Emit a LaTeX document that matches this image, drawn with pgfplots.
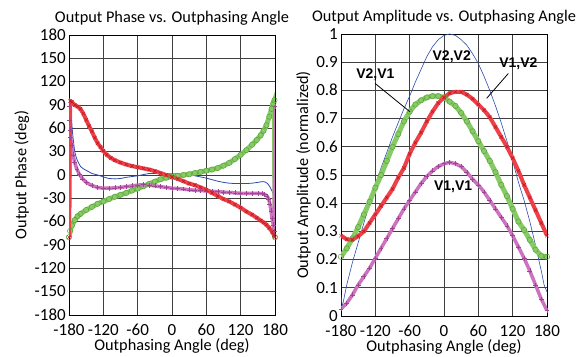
\documentclass[border=0pt]{standalone}
\usepackage{fontspec}
\setmainfont{Carlito}
\newfontfamily\arialb{Liberation Sans}
\usepackage{pgfplots}
\usepackage{pgfplotstable}
\pgfplotsset{compat=1.18}
\definecolor{cblue}{RGB}{45,75,175}
\definecolor{cred}{RGB}{235,30,40}
\definecolor{cgreen}{RGB}{105,190,65}
\definecolor{cmag}{RGB}{190,80,175}
\pgfplotsset{
 myax/.style={
  scale only axis, anchor=south west, width=206bp,
  xmin=-180, xmax=180, xtick={-180,-120,...,180},
  grid=major, major grid style={black!75, line width=0.75bp},
  axis line style={black, line width=0.8bp},
  major tick length=0pt,
  /pgf/number format/assume math mode=true,
  tick label style={font=\fontsize{17bp}{19bp}\selectfont, inner sep=0pt, text height=10.5bp, text depth=0pt},
  xticklabel style={yshift=-9.5bp},
  yticklabel style={xshift=-3bp},
  label style={font=\fontsize{16.3bp}{19bp}\selectfont},
  title style={font=\fontsize{16.3bp}{19bp}\selectfont},
  xlabel={Outphasing Angle (deg)},
  xlabel style={yshift=0.5bp},
  ylabel style={yshift=2bp},
  clip=true,
 },
 bred/.style={cred!85!white, line width=4bp, mark=x, mark size=2.4bp, mark options={cred!80!black, line width=0.5bp}},
 bgreen/.style={cgreen!80!white, line width=5bp, mark=o, mark size=2.7bp, mark options={cgreen!85!black, line width=0.5bp}},
 bmag/.style={cmag!80!white, line width=3.5bp, mark=+, mark size=2.4bp, mark options={cmag!85!black, line width=0.5bp}},
 bblue/.style={cblue, line width=0.8bp, no marks},
}
\begin{document}
% ---------- phase data ----------
\pgfplotstableread{
a v
-180 -80
-178 95
-175 94
-170 90
-165 88
-160 85
-155 79
-150 71
-145 63
-140 56
-135 48
-130 41
-125 36
-120 31
-114 26
-107 22
-100 19
-90 16
-80 13.5
-70 11.5
-60 10
-50 8.5
-40 7
-30 5
-20 2.5
-10 0
0 -2.5
10 -5
20 -8
30 -11
40 -13
50 -16
60 -19
70 -23
80 -27
90 -31
100 -34
110 -38
120 -42
130 -47
140 -51
148 -55
155 -58.5
160 -61
165 -64
170 -68
175 -73
178 -77
180 -80
}\phred
\pgfplotstableread{
a v
-180 -80
-178 -72
-175 -65
-170 -58
-165 -53
-160 -50
-150 -45
-140 -41
-130 -37
-120 -34
-110 -31
-100 -28
-90 -25.5
-80 -23
-70 -20
-60 -17.5
-50 -14.5
-40 -11.5
-30 -8.5
-20 -5.5
-10 -3.5
0 -2
10 -1
20 0
30 1
40 2.5
50 4
60 5.5
70 7
80 9
90 12
100 15.5
110 20.5
120 26
130 32
140 39
148 45
155 51
160 57
165 64
170 75
174 85
177 92
179 96
180 -80
}\phgreen
\pgfplotstableread{
a v
-180 88
-179 70
-178 58
-177 48
-175 38
-173 26
-170 16
-166 7
-162 1
-156 -5
-150 -9.5
-140 -13.5
-130 -16
-120 -17
-110 -17
-100 -16.5
-90 -16
-80 -15
-70 -14
-60 -13
-50 -12.5
-40 -13
-30 -14
-20 -15
-10 -16
0 -17
10 -17.5
20 -18
30 -19
40 -19.5
50 -20
60 -20.5
70 -21
80 -21.5
90 -22
100 -22.5
110 -23
120 -23.5
130 -23.5
140 -23.5
150 -23.5
157 -24
162 -25
166 -27
169 -31
171 -37
173 -46
175 -56
177 -64
178.5 -72
180 88
}\phmag
\pgfplotstableread{
a v
-180 -28
-177 -78
-176 77
-174 55
-172 42
-170 30
-168 24
-165 18
-160 11
-155 8
-150 6
-140 2
-130 0
-120 -2.5
-110 -4.5
-100 -5
-90 -4.5
-80 -3
-70 -2
-60 -1
-50 0.5
-40 2
-30 2
-20 2
-10 1.5
0 1.5
10 1.5
20 1
30 0
40 -1
50 -2.5
60 -4
70 -6
80 -8
90 -9.5
100 -10.5
110 -11
120 -11
130 -11
140 -10.5
150 -9.5
158 -8.5
163 -9
167 -11
171 -15
175 -21
178 -27
180 -30
}\phblue
% ---------- amplitude data ----------
\pgfplotstableread{
a v
-180 0.075
-178 0.03
-175 0.06
-170 0.11
-165 0.15
-160 0.19
-150 0.26
-140 0.33
-130 0.40
-120 0.465
-110 0.525
-100 0.58
-90 0.635
-80 0.685
-70 0.735
-60 0.78
-50 0.83
-40 0.875
-30 0.92
-20 0.955
-10 0.98
0 0.995
10 1.0
20 0.995
30 0.98
40 0.96
50 0.93
60 0.895
70 0.85
80 0.80
90 0.745
100 0.685
110 0.62
120 0.55
130 0.475
140 0.41
150 0.335
160 0.25
170 0.16
175 0.11
180 0.085
}\amblue
\pgfplotstableread{
a v
-180 0.285
-170 0.272
-160 0.27
-150 0.283
-140 0.30
-130 0.33
-120 0.36
-110 0.39
-100 0.42
-90 0.45
-80 0.49
-70 0.525
-60 0.575
-50 0.615
-40 0.65
-30 0.69
-20 0.725
-10 0.755
0 0.775
10 0.79
20 0.795
30 0.795
40 0.785
50 0.77
60 0.75
70 0.73
80 0.705
90 0.67
100 0.635
110 0.60
120 0.56
130 0.515
140 0.465
150 0.42
160 0.375
170 0.33
180 0.285
}\amred
\pgfplotstableread{
a v
-180 0.21
-170 0.24
-160 0.275
-150 0.315
-140 0.36
-130 0.405
-120 0.455
-110 0.50
-100 0.55
-90 0.60
-80 0.645
-70 0.69
-60 0.725
-50 0.75
-40 0.765
-30 0.775
-20 0.78
-10 0.78
0 0.775
10 0.76
20 0.745
30 0.72
40 0.69
50 0.655
60 0.62
70 0.585
80 0.55
90 0.51
100 0.465
110 0.425
120 0.38
130 0.335
140 0.305
150 0.27
160 0.235
170 0.213
180 0.21
}\amgreen
\pgfplotstableread{
a v
-180 0.025
-170 0.045
-160 0.075
-150 0.11
-140 0.14
-130 0.17
-120 0.205
-110 0.24
-100 0.275
-90 0.31
-80 0.345
-70 0.38
-60 0.41
-50 0.44
-40 0.47
-30 0.495
-20 0.515
-10 0.53
0 0.54
10 0.545
20 0.54
30 0.53
40 0.51
50 0.485
60 0.465
70 0.44
80 0.41
90 0.38
100 0.35
110 0.32
120 0.285
130 0.245
140 0.205
150 0.16
160 0.11
170 0.06
180 0.02
}\ammag
\begin{tikzpicture}
\path[use as bounding box] (0,0) rectangle (585bp,357bp);

\begin{axis}[myax, at={(69bp,42bp)}, height=280bp,
  ymin=-180, ymax=180, ytick={-180,-150,...,180},
  title={Output Phase vs. Outphasing Angle},
  ylabel={Output Phase (deg)}]
\addplot[bblue] table[x=a,y=v] {\phblue};
\addplot[bgreen] table[x=a,y=v] {\phgreen};
\addplot[bmag] table[x=a,y=v] {\phmag};
\addplot[bred] table[x=a,y=v] {\phred};
\end{axis}

\begin{axis}[myax, at={(341bp,41bp)}, height=282bp,
  ymin=0, ymax=1, ytick={0,0.1,0.2,0.3,0.4,0.5,0.6,0.7,0.8,0.9,1},
  yticklabels={0,0.1,0.2,0.3,0.4,0.5,0.6,0.7,0.8,0.9,1},
  title={Output Amplitude vs. Outphasing Angle},
  ylabel={Output Amplitude (normalized)}]
\addplot[bblue, line width=0.6bp] table[x=a,y=v] {\amblue};
\addplot[bgreen] table[x=a,y=v] {\amgreen};
\addplot[bmag] table[x=a,y=v] {\ammag};
\addplot[bred] table[x=a,y=v] {\amred};
\node[font=\arialb\bfseries\fontsize{14bp}{16bp}\selectfont] at (axis cs:13.5,0.92) {V2,V2};
\node[font=\arialb\bfseries\fontsize{14bp}{16bp}\selectfont] at (axis cs:130,0.895) {V1,V2};
\node[font=\arialb\bfseries\fontsize{14bp}{16bp}\selectfont] at (axis cs:-120,0.855) {V2,V1};
\node[font=\arialb\bfseries\fontsize{14bp}{16bp}\selectfont] at (axis cs:16,0.459) {V1,V1};
\draw[black, line width=0.8bp] (axis cs:-120.6,0.825) -- (axis cs:-59.4,0.724);
\draw[black, line width=0.8bp] (axis cs:112.4,0.86) -- (axis cs:74.6,0.772);
\end{axis}
\end{tikzpicture}
\end{document}
